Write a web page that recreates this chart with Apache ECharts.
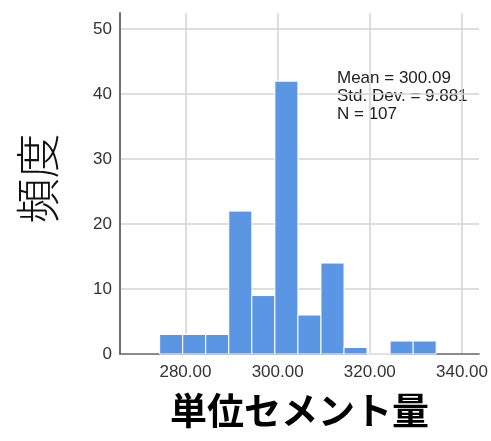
<!DOCTYPE html>
<html>
<head>
<meta charset="utf-8">
<script src="https://cdn.jsdelivr.net/npm/echarts@6/dist/echarts.min.js"></script>
<style>
  html, body { margin: 0; padding: 0; background: #fff; }
  #chart { width: 491px; height: 441px; }
</style>
</head>
<body>
<div id="chart"></div>
<script>
// Histogram bins (lower / upper edge) and frequencies
const binLower = [274.4, 279.4, 284.4, 289.4, 294.4, 299.4, 304.4, 309.4, 314.4, 319.4, 324.4, 329.4];
const binUpper = [279.4, 284.4, 289.4, 294.4, 299.4, 304.4, 309.4, 314.4, 319.4, 324.4, 329.4, 334.4];
const counts   = [3, 3, 3, 22, 9, 42, 6, 14, 1, 0, 2, 2];

// Summary statistics shown in the plot
const statLines = ['Mean = 300.09', 'Std. Dev. = 9.881', 'N = 107'];

const xName = '単位セメント量';
const yName = '頻度';

const barData = binLower.map((lo, i) => [lo, binUpper[i], counts[i]]);

const chart = echarts.init(document.getElementById('chart'), null, { renderer: 'canvas' });

const gridColor = '#d3d3d3';
const labelFont = { fontFamily: '"Liberation Sans", Arial, sans-serif', fontSize: 17, color: '#333' };

chart.setOption({
  animation: false,
  backgroundColor: '#fff',
  grid: { left: 120, right: 11, top: 13, bottom: 87, containLabel: false },
  xAxis: {
    type: 'value',
    min: 265.8,
    max: 343.7,
    minInterval: 20,
    maxInterval: 20,
    name: xName,
    nameLocation: 'middle',
    nameGap: 38,
    nameTextStyle: {
      fontFamily: '"Noto Sans CJK JP", sans-serif',
      fontSize: 37,
      fontWeight: 'bold',
      color: '#000'
    },
    axisLine: { show: true, lineStyle: { color: '#666', width: 1.5 } },
    axisTick: { show: false },
    axisLabel: Object.assign({
      margin: 10,
      showMinLabel: false,
      showMaxLabel: false,
      formatter: v => v.toFixed(2)
    }, labelFont),
    splitLine: {
      show: true,
      showMinLine: false,
      showMaxLine: false,
      lineStyle: { color: gridColor, width: 1.5 }
    }
  },
  yAxis: {
    type: 'value',
    min: 0,
    max: 52.5,
    minInterval: 10,
    maxInterval: 10,
    name: yName,
    nameLocation: 'middle',
    nameRotate: 90,
    nameGap: 60,
    nameTextStyle: {
      fontFamily: '"Noto Sans CJK JP Light", "Noto Sans CJK JP", sans-serif',
      fontSize: 45,
      fontWeight: 300,
      color: '#111',
      padding: [0, 0, 0, 10]
    },
    axisLine: { show: true, lineStyle: { color: '#707070', width: 2 } },
    axisTick: { show: false },
    axisLabel: Object.assign({ margin: 8, showMaxLabel: false }, labelFont),
    splitLine: {
      show: true,
      showMinLine: false,
      showMaxLine: false,
      lineStyle: { color: gridColor, width: 1.5 }
    }
  },
  series: [{
    type: 'custom',
    data: barData,
    encode: { x: [0, 1], y: 2 },
    renderItem: function (params, api) {
      const p0 = api.coord([api.value(0), api.value(2)]);
      const p1 = api.coord([api.value(1), 0]);
      return {
        type: 'rect',
        shape: { x: p0[0], y: p0[1], width: p1[0] - p0[0], height: p1[1] - p0[1] },
        style: { fill: '#5a96e4', stroke: '#ffffff', lineWidth: 1 }
      };
    }
  }],
  graphic: [{
    type: 'text',
    left: 337,
    top: 69,
    style: {
      text: statLines.join('\n'),
      fontFamily: '"Liberation Sans", Arial, sans-serif',
      fontSize: 17,
      lineHeight: 18,
      fill: '#222'
    }
  }]
});
</script>
</body>
</html>
